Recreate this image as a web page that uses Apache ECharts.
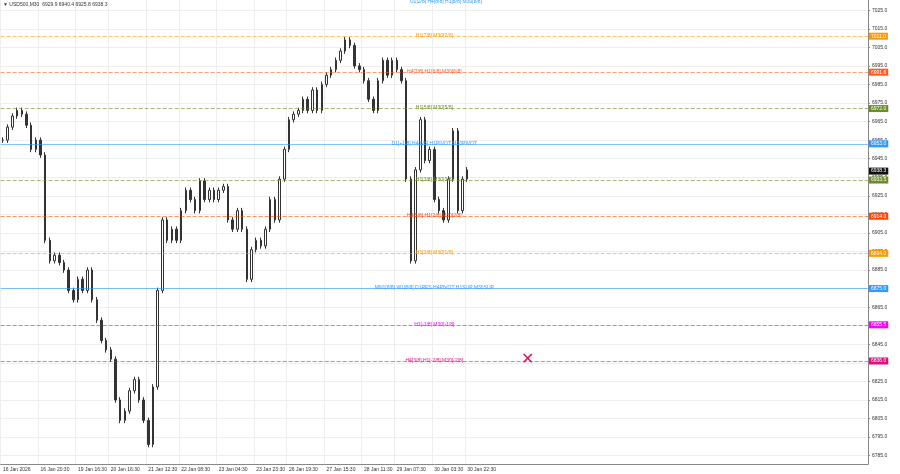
<!DOCTYPE html>
<html><head><meta charset="utf-8">
<script src="https://cdn.jsdelivr.net/npm/echarts@6/dist/echarts.min.js"></script>
<style>html,body{margin:0;padding:0;background:#fff}#c{width:900px;height:474px}</style>
</head><body><div id="c"></div>
<script>
const closes = [6955,6962,6968,6971,6969,6963,6950,6955,6947,
 6901,6890,6893,6889,6885,6874,6869,6880,6874,6885,6869,6858,6847,6842,6837,6815,6804,6809,6820,6826,6815,6804,6791,
 6822,6874,6912,6901,6907,6901,6917,6928,6923,6917,6933,6923,6928,6923,6928,6930,6912,6907,6917,6907,6880,
 6896,6901,6898,6907,6923,6912,6934,6950,6966,6969,6971,6977,6971,6982,6971,6985,6990,6993,6998,7003,7009,7006,6995,6993,6987,6977,6971,6987,6998,6990,6998,6993,6987,
 6934,6890,6939,6966,6944,6950,6923,6917,6912,6934,6960,6917,6934,6939];
const xLabels = {0:"16 Jan 2026",8:"16 Jan 20:30",16:"19 Jan 16:30",23:"20 Jan 16:30",31:"21 Jan 12:30",38:"22 Jan 08:30",46:"23 Jan 04:30",54:"23 Jan 23:30",61:"26 Jan 19:30",69:"27 Jan 15:30",77:"28 Jan 11:30",84:"29 Jan 07:30",92:"30 Jan 03:30",99:"30 Jan 22:30"};
const levelValues = [7011,6991.6,6972,6953,6933.5,6914,6894,6875,6855.5,6836];
const levelNames = ["H1[7/8] M30[7/8]","H4[7/8] H1[6/8] M30[6/8]","H1[5/8] M30[5/8]","D1[+1/8] H4[6/8] H1PIVOT M30PIVOT","H1[3/8] M30[3/8]","H4[5/8] H1[2/8] M30[2/8]","H1[1/8] M30[1/8]","MN1[8/8] W1[8/8] D1RES H4PIVOT H1SUP M30SUP","H1[-1/8] M30[-1/8]","H4[3/8] H1[-2/8] M30[-2/8]"];
const levelColors = ["#ff9900","#ff5a1f","#6b8e23","#3399ff","#6b8e23","#ff4500","#ff9900","#3399ff","#ff00ff","#e0107a"];
const yTicks = [6785,6795,6805,6815,6825,6835,6845,6855,6865,6875,6885,6895,6905,6915,6925,6935,6945,6955,6965,6975,6985,6995,7005,7015,7025];
const N = 185;
const cats = []; for (let i=0;i<N;i++) cats.push(xLabels[i]||("c"+i));
const ohlc = closes.map((c,i)=>{const o=i?closes[i-1]:c;return [o,c,Math.min(o,c)-1.5,Math.max(o,c)+1.5];});
const solid = [3,7];
const tags = levelValues.map((v,i)=>({value:v,color:levelColors[i]})).concat([{value:6938.3,color:'#111'}]);
const chart = echarts.init(document.getElementById('c'));
chart.setOption({
 animation:false,
 grid:{left:0,right:32,top:0,bottom:10},
 xAxis:{type:'category',data:cats,boundaryGap:true,
  axisLine:{lineStyle:{color:'#888'}},axisTick:{show:false},
  axisLabel:{fontSize:5,color:'#333',margin:3,align:'left',interval:(i)=>xLabels[i]!==undefined,formatter:v=>v.startsWith('c')?'':v},
  splitLine:{show:true,interval:(i)=>xLabels[i]!==undefined,lineStyle:{color:'#eee'}}},
 yAxis:{type:'value',position:'right',min:6780.5,max:7030.5,
  axisLine:{show:true,lineStyle:{color:'#888'}},
  axisTick:{show:true,customValues:yTicks,length:2},
  axisLabel:{customValues:yTicks,fontSize:5,color:'#333',margin:4,formatter:v=>v.toFixed(1)},
  splitLine:{show:true,lineStyle:{color:'#eee'}}},
 series:[
  {type:'candlestick',data:ohlc,barWidth:2,
   itemStyle:{color:'#fff',color0:'#333',borderColor:'#333',borderColor0:'#333',borderWidth:1},
   markLine:{symbol:'none',silent:true,
    data:levelValues.map((v,i)=>({yAxis:v,lineStyle:{color:levelColors[i],type:solid.includes(i)?'solid':'dashed',width:1,opacity:0.6},
     label:{position:'middle',formatter:levelNames[i],color:levelColors[i],opacity:1,fontSize:5,distance:-2}}))}}
 ]
});
const tagGraphics = tags.map(t=>{
  const y = chart.convertToPixel({yAxisIndex:0}, t.value);
  return {type:'text',x:869,y:y-3.5,z:100,style:{text:t.value.toFixed(1),fontSize:5,fill:'#fff',backgroundColor:t.color,padding:[1,2]}};
});
const X = chart.convertToPixel({xAxisIndex:0,yAxisIndex:0},[112,6837]);
tagGraphics.push({type:'text',x:X[0]-7,y:X[1]-8,style:{text:'✕',fontSize:16,fill:'#e0105a'}});
chart.setOption({graphic:[
  {type:'text',left:3,top:2,style:{text:'▼ USD500,M30  6929.9 6940.4 6925.8 6938.3',fontSize:5,fill:'#333'}},
  {type:'text',left:410,top:-1,style:{text:'U1[2/8] H4[8/8] H1[8/8] M30[8/8]',fontSize:5,fill:'#3399ff'}}
 ].concat(tagGraphics)});
</script></body></html>
